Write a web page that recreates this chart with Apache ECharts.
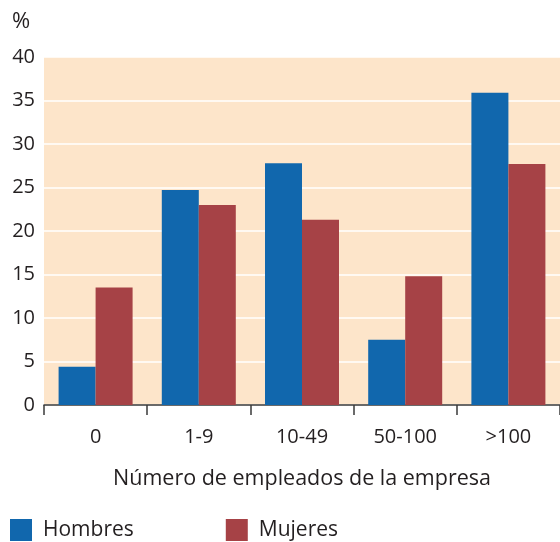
<!DOCTYPE html>
<html>
<head>
<meta charset="utf-8">
<script src="https://cdn.jsdelivr.net/npm/echarts@6/dist/echarts.min.js"></script>
<style>html,body{margin:0;padding:0;background:#fff;}#c{width:560px;height:542px;}</style>
</head>
<body>
<div id="c"></div>
<script>
const categories = ['0', '1-9', '10-49', '50-100', '>100'];
const hombres = [4.4, 24.7, 27.8, 7.5, 35.9];
const mujeres = [13.5, 23.0, 21.3, 14.8, 27.7];
const yTicks = [0, 5, 10, 15, 20, 25, 30, 35, 40];

const font = '"Open Sans", "Liberation Sans", sans-serif';
const txt = '#231F20';
const chart = echarts.init(document.getElementById('c'), null, {renderer: 'canvas'});
chart.setOption({
  animation: false,
  textStyle: {fontFamily: font},
  title: {
    text: '%', left: 12, top: 11, padding: 0,
    textStyle: {fontFamily: font, fontSize: 22, fontWeight: 'normal', color: txt}
  },
  legend: {
    left: 10, top: 519, padding: 0,
    itemWidth: 22, itemHeight: 22, itemGap: 92,
    icon: 'rect',
    textStyle: {fontFamily: font, fontSize: 21, color: txt, padding: [0, 0, 0, 6]},
    data: ['Hombres', 'Mujeres']
  },
  grid: {
    left: 44, top: 57, width: 518, height: 348,
    show: true, backgroundColor: '#FDE5CA', borderWidth: 0
  },
  xAxis: {
    type: 'category',
    data: categories,
    name: 'Número de empleados de la empresa',
    nameLocation: 'middle',
    nameGap: 63,
    nameTextStyle: {fontFamily: font, fontSize: 21.5, color: txt},
    axisLine: {show: true, lineStyle: {color: '#3a3a3a', width: 1.5}},
    axisTick: {show: true, length: 10, lineStyle: {color: '#3a3a3a', width: 1.5}},
    axisLabel: {fontFamily: font, fontSize: 20, color: txt, margin: 22},
    splitLine: {show: false}
  },
  yAxis: {
    type: 'value',
    min: 0, max: 40, interval: 5,
    axisLine: {show: false},
    axisTick: {show: false},
    axisLabel: {
      fontFamily: font, fontSize: 20, color: txt, margin: 9,
      formatter: v => yTicks.includes(v) ? String(v) : ''
    },
    splitLine: {show: true, lineStyle: {color: '#ffffff', width: 1.5}}
  },
  series: [
    {name: 'Hombres', type: 'bar', data: hombres, barWidth: 37, barGap: '0%',
     itemStyle: {color: '#1167AD'}},
    {name: 'Mujeres', type: 'bar', data: mujeres, barWidth: 37, barGap: '0%',
     itemStyle: {color: '#A64246'}}
  ]
});
</script>
</body>
</html>
